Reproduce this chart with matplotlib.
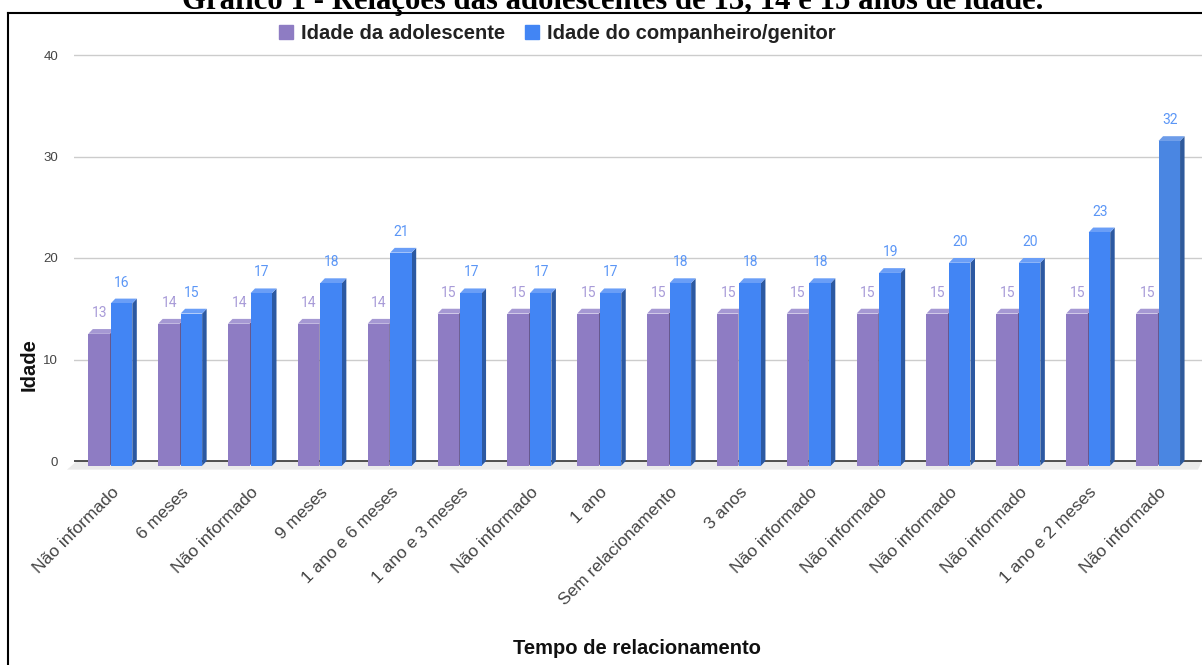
import matplotlib.pyplot as plt
from matplotlib.patches import Polygon, Patch
from matplotlib.lines import Line2D

# dados do grafico
categorias = ["Não informado", "6 meses", "Não informado", "9 meses", "1 ano e 6 meses",
              "1 ano e 3 meses", "Não informado", "1 ano", "Sem relacionamento", "3 anos",
              "Não informado", "Não informado", "Não informado", "Não informado",
              "1 ano e 2 meses", "Não informado"]
idade_adolescente = [13, 14, 14, 14, 14, 15, 15, 15, 15, 15, 15, 15, 15, 15, 15, 15]
idade_companheiro = [16, 15, 17, 18, 21, 17, 17, 17, 18, 18, 18, 19, 20, 20, 23, 32]
y_ticks = [0, 10, 20, 30, 40]

titulo = "Gráfico 1 - Relações das adolescentes de 13, 14 e 15 anos de idade."
serie_1 = "Idade da adolescente"
serie_2 = "Idade do companheiro/genitor"

W, H = 1202, 665


def fx(px):
    return px / W


def fy(py):
    return 1 - py / H


# escala em pixels da figura original
ux = 69.85   # px por categoria
uy = 10.15   # px por ano
w = 21.5 / ux
gap = 1.0 / ux
dx = 4.5 / ux
dy = 0.47

roxo = ("#8e7cc3", "#a598d3", "#66588f")
azul = ("#4285f4", "#6a9ef7", "#2c59a2")
azul_destaque = ("#4a86e2", "#6d9ce9", "#2f5a9c")

fig = plt.figure(figsize=(W / 100, H / 100), dpi=100)
y_bot, y_top = -1.2, 40.3
ax = fig.add_axes([fx(74), fy(461 - y_bot * -uy) if False else fy(461 + 1.2 * uy),
                   1 - fx(74), (y_top - y_bot) * uy / H])
ax.set_xlim(-(110.3 - 74) / ux, -(110.3 - 74) / ux + (W - 74) / ux)
ax.set_ylim(y_bot, y_top)
for s in ax.spines.values():
    s.set_visible(False)

# linhas de grade
for t in y_ticks[1:]:
    ax.axhline(t, color="#cccccc", lw=1, zorder=1)

# piso 3D
x0, x1 = ax.get_xlim()
piso = Polygon([(x0 + 3 / ux, 0), (x1, 0), (x1 - 4 / ux, -0.85), (x0 - 7 / ux, -0.85)],
               closed=True, color="#ebebeb", lw=0, zorder=1, clip_on=False)
ax.add_patch(piso)
ax.axhline(0, color="#333333", lw=1.2, zorder=2)


def barra3d(xl, v, cores, z):
    frente, topo, lado = cores
    ax.add_patch(Polygon([(xl + w, -dy), (xl + w + dx, 0), (xl + w + dx, v), (xl + w, v - dy)],
                         closed=True, color=lado, lw=0, zorder=z))
    ax.add_patch(Polygon([(xl, v - dy), (xl + w, v - dy), (xl + w + dx, v), (xl + dx, v)],
                         closed=True, color=topo, lw=0, zorder=z))
    ax.add_patch(Polygon([(xl, -dy), (xl + w, -dy), (xl + w, v - dy), (xl, v - dy)],
                         closed=True, color=frente, lw=0, zorder=z + 0.1))


for i, (a, c) in enumerate(zip(idade_adolescente, idade_companheiro)):
    xl_a = i - w - gap / 2
    xl_c = i + gap / 2
    barra3d(xl_a, a, roxo, 3 + i * 0.01)
    cores_c = azul_destaque if i == len(categorias) - 1 else azul
    barra3d(xl_c, c, cores_c, 3.5 + i * 0.01)
    ax.text(xl_a + w / 2 + 0.5 / ux, a + 16 / uy, str(a), ha="center", va="center",
            fontsize=10, family="Roboto", color="#a89bd8", zorder=5)
    ax.text(xl_c + w / 2 + 0.5 / ux, c + 16 / uy, str(c), ha="center", va="center",
            fontsize=10, family="Roboto", color="#5b96f6", zorder=5)

# eixos
ax.set_yticks(y_ticks)
ax.set_yticklabels([str(t) for t in y_ticks], family="Liberation Sans", fontsize=9.5,
                   color="#444444")
ax.set_xticks([i + 6 / ux for i in range(len(categorias))])
ax.set_xticklabels(categorias, rotation=45, ha="right", va="center",
                   rotation_mode="anchor", family="Liberation Sans", fontsize=12.5,
                   color="#444444")
ax.tick_params(axis="both", length=0)
ax.tick_params(axis="y", pad=11.5)
ax.tick_params(axis="x", pad=12)

fig.text(fx(29), fy(365), "Idade", rotation=90, ha="center", va="center",
         family="Liberation Sans", fontweight="bold", fontsize=14.5, color="#111111")
fig.text(fx(637), fy(648), "Tempo de relacionamento", ha="center", va="center",
         family="Liberation Sans", fontweight="bold", fontsize=14.5, color="#111111")

# legenda
handles = [Patch(color=roxo[0], label=serie_1), Patch(color=azul[0], label=serie_2)]
leg = fig.legend(handles=handles, loc="center", bbox_to_anchor=(fx(557.5), fy(33.7)),
                 ncol=2, frameon=False, handlelength=0.7, handleheight=0.7,
                 handletextpad=0.4, columnspacing=1.0,
                 prop={"family": "Liberation Sans", "weight": "bold", "size": 14.5})
for t in leg.get_texts():
    t.set_color("#222222")

# titulo cortado no topo (imagem recortada)
tt = fig.text(fx(613), fy(9), titulo, ha="center", va="baseline",
              family="Liberation Serif", fontweight="bold", fontsize=20, color="black")
fig.canvas.draw()
larg = tt.get_window_extent().width
tt.set_fontsize(20 * 864 / larg)

# moldura
fig.add_artist(Line2D([fx(8), fx(8)], [fy(12.7), 0], color="black", lw=1.5))
fig.add_artist(Line2D([fx(8), 1], [fy(12.7), fy(12.7)], color="black", lw=1.5))

fig.savefig("out.png", dpi=100)
